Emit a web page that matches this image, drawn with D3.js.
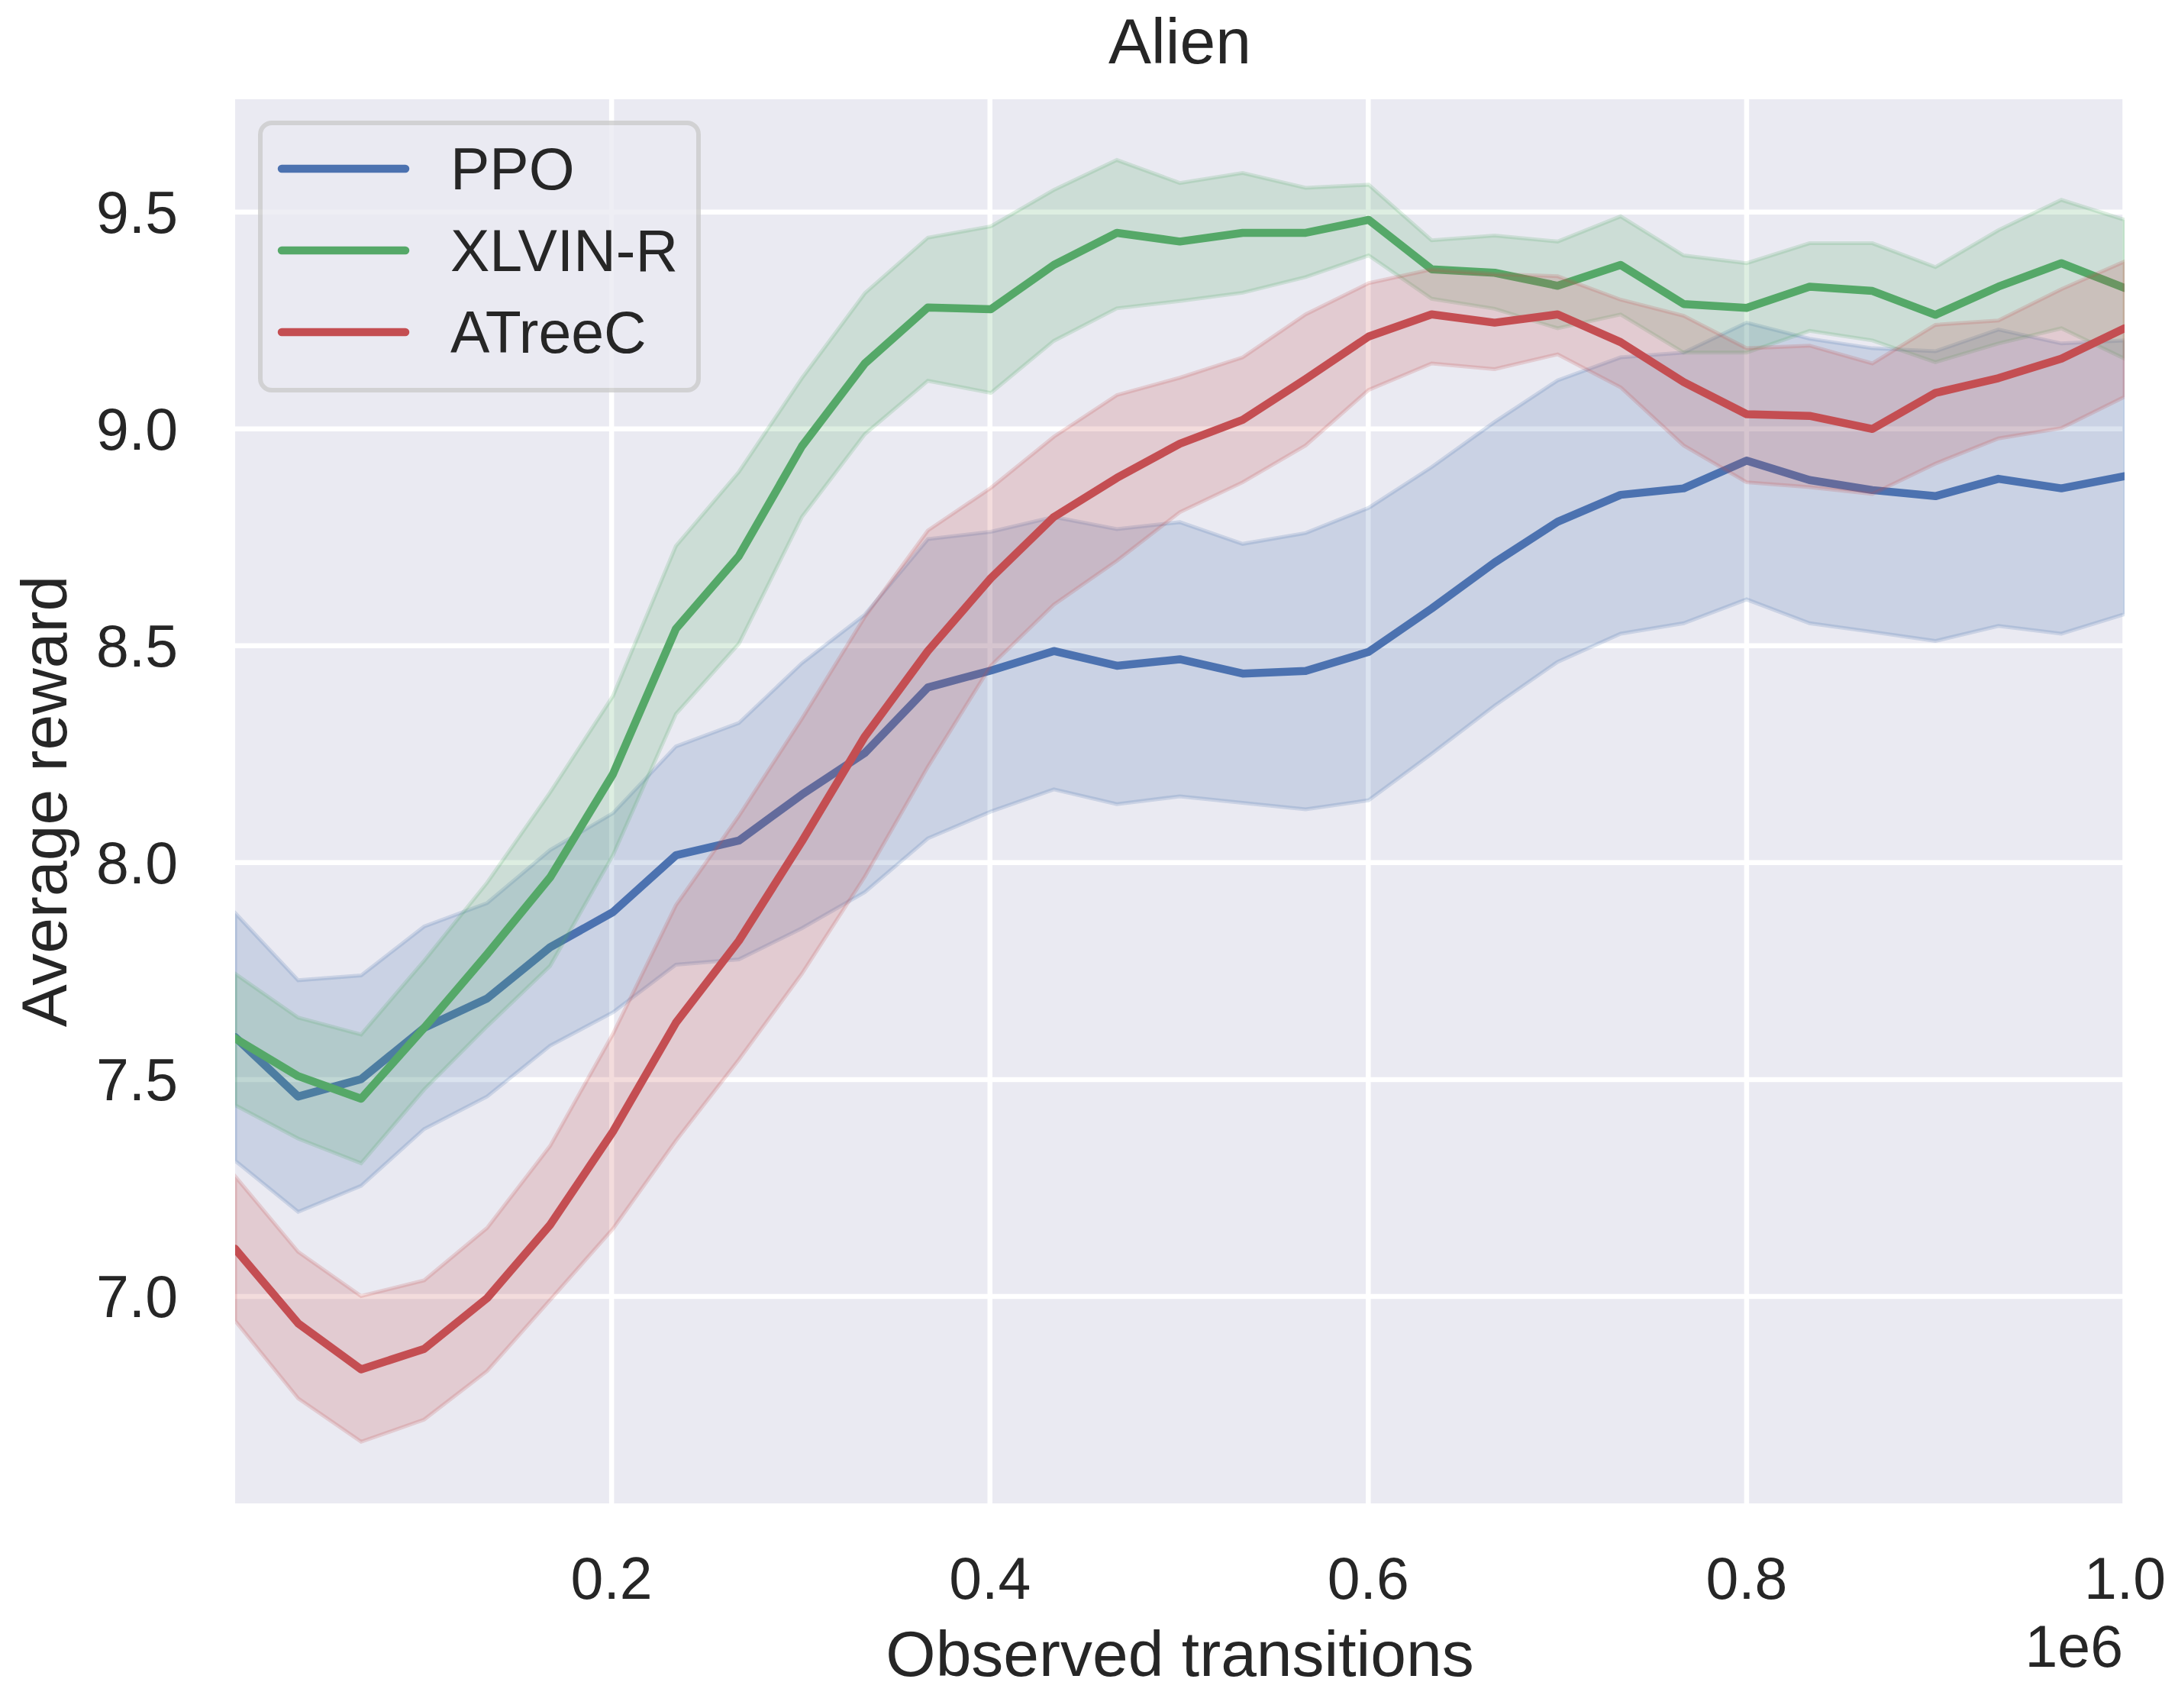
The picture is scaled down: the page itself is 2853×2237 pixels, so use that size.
<!DOCTYPE html>
<html>
<head>
<meta charset="utf-8">
<script src="https://cdn.jsdelivr.net/npm/d3@7"></script>
<style>
  body { margin: 0; background: #ffffff; }
  text { font-family: "Liberation Sans", Arial, sans-serif; fill: #262626; }
</style>
</head>
<body>
<script>
var svgWidth = 2853;
var svgHeight = 2237;

// observed transitions, in units of 1e6
var steps = [0.0012, 0.0345, 0.0678, 0.1011, 0.1344, 0.1677, 0.2009, 0.2342, 0.2675, 0.3008,
             0.3341, 0.3674, 0.4007, 0.4340, 0.4673, 0.5006, 0.5338, 0.5671, 0.6004, 0.6337,
             0.6670, 0.7003, 0.7336, 0.7669, 0.8002, 0.8335, 0.8667, 0.9000, 0.9333, 0.9666, 1.0000];

var seriesNames = ["PPO", "XLVIN-R", "ATreeC"];
var seriesColors = ["#4c72b0", "#55a868", "#c44e52"];

var ppoMean = [7.597, 7.460, 7.500, 7.618, 7.686, 7.804, 7.885, 8.016, 8.050, 8.156,
               8.252, 8.403, 8.442, 8.487, 8.453, 8.468, 8.435, 8.441, 8.485, 8.585,
               8.691, 8.785, 8.847, 8.862, 8.926, 8.881, 8.858, 8.844, 8.884, 8.862, 8.890];
var ppoUpper = [7.883, 7.728, 7.739, 7.852, 7.906, 8.028, 8.113, 8.267, 8.321, 8.459,
                8.571, 8.745, 8.762, 8.796, 8.768, 8.784, 8.734, 8.759, 8.817, 8.911,
                9.015, 9.111, 9.164, 9.175, 9.244, 9.207, 9.185, 9.178, 9.228, 9.196, 9.203];
var ppoLower = [7.312, 7.194, 7.254, 7.385, 7.460, 7.577, 7.654, 7.764, 7.776, 7.848,
                7.931, 8.055, 8.117, 8.168, 8.134, 8.152, 8.137, 8.122, 8.143, 8.250,
                8.361, 8.462, 8.527, 8.551, 8.606, 8.551, 8.531, 8.510, 8.545, 8.527, 8.572];

var xlvinMean = [7.594, 7.507, 7.455, 7.618, 7.788, 7.965, 8.203, 8.538, 8.706, 8.959,
                 9.150, 9.279, 9.275, 9.377, 9.451, 9.431, 9.451, 9.451, 9.481, 9.367,
                 9.359, 9.329, 9.377, 9.287, 9.278, 9.327, 9.317, 9.262, 9.327, 9.381, 9.324];
var xlvinUpper = [7.743, 7.642, 7.603, 7.773, 7.953, 8.161, 8.383, 8.729, 8.900, 9.116,
                  9.312, 9.440, 9.466, 9.550, 9.619, 9.566, 9.589, 9.555, 9.562, 9.434,
                  9.445, 9.431, 9.489, 9.399, 9.381, 9.427, 9.427, 9.372, 9.457, 9.527, 9.481];
var xlvinLower = [7.440, 7.363, 7.306, 7.476, 7.622, 7.761, 8.016, 8.342, 8.504, 8.796,
                  8.987, 9.110, 9.082, 9.202, 9.277, 9.294, 9.313, 9.349, 9.399, 9.299,
                  9.276, 9.231, 9.263, 9.175, 9.175, 9.225, 9.203, 9.153, 9.196, 9.231, 9.161];

var atreecMean = [7.109, 6.937, 6.831, 6.878, 6.995, 7.164, 7.379, 7.630, 7.819, 8.048,
                  8.290, 8.487, 8.655, 8.796, 8.886, 8.965, 9.020, 9.114, 9.212, 9.263,
                  9.244, 9.263, 9.199, 9.107, 9.033, 9.029, 8.999, 9.082, 9.116, 9.161, 9.231];
var atreecUpper = [7.276, 7.102, 7.000, 7.036, 7.157, 7.346, 7.604, 7.901, 8.107, 8.331,
                   8.566, 8.765, 8.863, 8.981, 9.077, 9.117, 9.164, 9.263, 9.335, 9.367,
                   9.356, 9.351, 9.297, 9.260, 9.185, 9.191, 9.150, 9.239, 9.249, 9.321, 9.385];
var atreecLower = [6.943, 6.764, 6.664, 6.715, 6.827, 6.991, 7.155, 7.358, 7.545, 7.743,
                   7.967, 8.220, 8.453, 8.594, 8.695, 8.807, 8.876, 8.961, 9.089, 9.150,
                   9.137, 9.171, 9.095, 8.961, 8.876, 8.865, 8.849, 8.919, 8.977, 9.001, 9.073];

var xTicks = [0.2, 0.4, 0.6, 0.8, 1.0];
var xTickLabels = ["0.2", "0.4", "0.6", "0.8", "1.0"];
var yTicks = [7.0, 7.5, 8.0, 8.5, 9.0, 9.5];
var yTickLabels = ["7.0", "7.5", "8.0", "8.5", "9.0", "9.5"];

var means = [ppoMean, xlvinMean, atreecMean];
var uppers = [ppoUpper, xlvinUpper, atreecUpper];
var lowers = [ppoLower, xlvinLower, atreecLower];

var plotLeft = 308, plotRight = 2783, plotTop = 130, plotBottom = 1969;
var plotW = plotRight - plotLeft;
var plotH = plotBottom - plotTop;

var xScale = d3.scaleLinear().domain([steps[0], steps[steps.length - 1]]).range([0, plotW]);
var yScale = d3.scaleLinear().domain([6.522, 9.759]).range([plotH, 0]);

var svg = d3.select("body")
    .append("svg")
    .attr("width", svgWidth)
    .attr("height", svgHeight);

var plot = svg.append("g")
    .attr("transform", "translate(" + plotLeft + "," + plotTop + ")");

plot.append("rect")
    .attr("width", plotW)
    .attr("height", plotH)
    .attr("fill", "#eaeaf2");

// grid lines come from the axes, tick lines stretched across the plot
var xAxis = plot.append("g")
    .attr("transform", "translate(0," + plotH + ")")
    .call(d3.axisBottom(xScale)
        .tickValues(xTicks)
        .tickFormat(function (d, i) { return xTickLabels[i]; })
        .tickSizeInner(-plotH)
        .tickSizeOuter(0)
        .tickPadding(70));

var yAxis = plot.append("g")
    .call(d3.axisLeft(yScale)
        .tickValues(yTicks)
        .tickFormat(function (d, i) { return yTickLabels[i]; })
        .tickSizeInner(-plotW)
        .tickSizeOuter(0)
        .tickPadding(75));

[xAxis, yAxis].forEach(function (ax) {
    ax.select(".domain").remove();
    ax.selectAll(".tick line")
        .attr("stroke", "#ffffff")
        .attr("stroke-width", 6.5);
    ax.selectAll(".tick text")
        .attr("fill", "#262626")
        .attr("font-size", "77px")
        .attr("font-family", "Liberation Sans, Arial, sans-serif");
});
yAxis.selectAll(".tick text").attr("dy", "0.35em");

// clip the bands and lines to the axes area
svg.append("defs").append("clipPath")
    .attr("id", "plotClip")
    .append("rect")
    .attr("width", plotW)
    .attr("height", plotH);

var marks = plot.append("g").attr("clip-path", "url(#plotClip)");

var bandArea = function (k) {
    return d3.area()
        .x(function (d, i) { return xScale(steps[i]); })
        .y0(function (d, i) { return yScale(lowers[k][i]); })
        .y1(function (d, i) { return yScale(uppers[k][i]); });
};
var meanLine = d3.line()
    .x(function (d, i) { return xScale(steps[i]); })
    .y(function (d) { return yScale(d); });

for (var k = 0; k < seriesNames.length; k++) {
    marks.append("path")
        .datum(means[k])
        .attr("d", bandArea(k))
        .attr("fill", seriesColors[k])
        .attr("fill-opacity", 0.2)
        .attr("stroke", seriesColors[k])
        .attr("stroke-opacity", 0.2)
        .attr("stroke-width", 5);
    marks.append("path")
        .datum(means[k])
        .attr("d", meanLine)
        .attr("fill", "none")
        .attr("stroke", seriesColors[k])
        .attr("stroke-width", 10.5)
        .attr("stroke-linejoin", "round")
        .attr("stroke-linecap", "round");
}

// legend
var legend = svg.append("g");
legend.append("rect")
    .attr("x", 341)
    .attr("y", 161)
    .attr("width", 574)
    .attr("height", 350)
    .attr("rx", 15)
    .attr("fill", "#eaeaf2")
    .attr("stroke", "#cccccc")
    .attr("stroke-width", 6)
    .attr("opacity", 0.8);

var legendRows = legend.selectAll("g.row")
    .data(seriesNames)
    .enter()
    .append("g")
    .attr("class", "row")
    .attr("transform", function (d, i) { return "translate(0," + (221 + i * 107) + ")"; });

legendRows.append("line")
    .attr("x1", 369)
    .attr("x2", 531)
    .attr("stroke", function (d, i) { return seriesColors[i]; })
    .attr("stroke-width", 10.5)
    .attr("stroke-linecap", "round");

legendRows.append("text")
    .attr("x", 590)
    .attr("y", 27)
    .attr("font-size", "77px")
    .text(function (d) { return d; });

// titles
svg.append("text")
    .attr("x", plotLeft + plotW / 2)
    .attr("y", 83)
    .attr("text-anchor", "middle")
    .attr("font-size", "84px")
    .text("Alien");

svg.append("text")
    .attr("x", plotLeft + plotW / 2)
    .attr("y", 2195)
    .attr("text-anchor", "middle")
    .attr("font-size", "84px")
    .text("Observed transitions");

svg.append("text")
    .attr("x", 2781)
    .attr("y", 2183)
    .attr("text-anchor", "end")
    .attr("font-size", "77px")
    .text("1e6");

svg.append("text")
    .attr("transform", "translate(87," + (plotTop + plotH / 2) + ") rotate(-90)")
    .attr("text-anchor", "middle")
    .attr("font-size", "84px")
    .text("Average reward");
</script>
</body>
</html>
